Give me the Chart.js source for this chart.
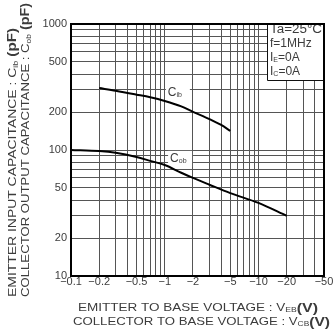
<!DOCTYPE html>
<html><head><meta charset="utf-8">
<script src="https://cdn.jsdelivr.net/npm/chart.js@4.4.0/dist/chart.umd.min.js"></script>
<style>html,body{margin:0;padding:0;background:#fff;overflow:hidden}#wrap{width:333px;height:332px;position:relative}</style>
</head><body><div id="wrap"><canvas id="c" width="333" height="332"></canvas></div>
<script>
// ---- data ----
const voltageCib = [-0.2, -0.3, -0.5, -0.7, -1, -1.5, -2, -3, -4, -5];
const capCib     = [310, 295, 275, 262, 245, 222, 201, 176, 158, 142];
const voltageCob = [-0.1, -0.2, -0.3, -0.5, -0.7, -1, -1.5, -2, -3, -5, -10, -20];
const capCob     = [100, 98, 95, 88, 82, 76, 66, 60, 53, 45.5, 38, 30];
const xTickValues = [0.1,0.2,0.3,0.4,0.5,0.6,0.7,0.8,0.9,1,2,3,4,5,6,7,8,9,10,20,30,40,50];
const xTickLabels = {'0.1':'−0.1','0.2':'−0.2','0.5':'−0.5','1':'−1','2':'−2','5':'−5','10':'−10','20':'−20','50':'−50'};
const yTickValues = [10,20,30,40,50,60,70,80,90,100,200,300,400,500,600,700,800,900,1000];
const yTickLabels = {'10':'10','20':'20','50':'50','100':'100','200':'200','500':'500','1000':'1000'};

const FAM = '"Liberation Sans", Arial, Helvetica, sans-serif';
const TXT = '#3c3c3c';

function richWidth(ctx, segs){ let w=0; for(const s of segs){ ctx.font=s.font; w+=ctx.measureText(s.text).width; } return w; }
function drawRich(ctx, segs, x, y, opt){
  opt = opt || {};
  ctx.save();
  ctx.translate(x, y);
  if (opt.rotate) ctx.rotate(opt.rotate);
  const w = richWidth(ctx, segs);
  const k = opt.target ? opt.target / w : 1;
  const start = opt.align === 'center' ? -w*k/2 : 0;
  ctx.translate(start, 0);
  ctx.scale(k, 1);
  ctx.textBaseline = 'middle'; ctx.textAlign = 'left';
  let cx = 0;
  for (const s of segs){
    ctx.font = s.font; ctx.fillStyle = s.color || TXT;
    ctx.fillText(s.text, cx, s.dy || 0);
    cx += ctx.measureText(s.text).width;
  }
  ctx.restore();
}
const F = (sz, bold) => (bold ? 'bold ' : '') + sz + 'px ' + FAM;

const decorPlugin = {
  id: 'decor',
  beforeDatasetsDraw(chart){
    const ctx = chart.ctx, a = chart.chartArea;
    const xs = chart.scales.x, ys = chart.scales.y;
    ctx.save();
    // condition box
    const bx = a.right - 57, by = a.top + 56;
    ctx.fillStyle = '#fff';
    ctx.fillRect(bx, a.top, a.right - bx, by - a.top);
    ctx.strokeStyle = '#111'; ctx.lineWidth = 1;
    ctx.beginPath(); ctx.moveTo(bx + 0.5, a.top); ctx.lineTo(bx + 0.5, by + 0.5); ctx.lineTo(a.right, by + 0.5); ctx.stroke();
    drawRich(ctx, [{text:'Ta=25°C', font:F(12)}], bx + 3, a.top + 6, {target:52});
    drawRich(ctx, [{text:'f=1MHz', font:F(12)}], bx + 3, a.top + 20);
    drawRich(ctx, [{text:'I', font:F(12)}, {text:'E', font:F(7), dy:2}, {text:'=0A', font:F(12)}], bx + 3, a.top + 34);
    drawRich(ctx, [{text:'I', font:F(12)}, {text:'C', font:F(7), dy:2}, {text:'=0A', font:F(12)}], bx + 3, a.top + 48);
    // curve labels
    const lx1 = xs.getPixelForValue(1.08), ly1 = ys.getPixelForValue(283);
    ctx.fillStyle = '#fff'; ctx.fillRect(lx1 - 2, ly1 - 8, 24, 16);
    drawRich(ctx, [{text:'C', font:F(12)}, {text:'ib', font:F(7), dy:2}], lx1, ly1);
    const lx2 = xs.getPixelForValue(1.14), ly2 = ys.getPixelForValue(85);
    ctx.fillStyle = '#fff'; ctx.fillRect(lx2 - 2, ly2 - 8, 24, 16);
    drawRich(ctx, [{text:'C', font:F(12)}, {text:'ob', font:F(7), dy:2}], lx2, ly2);
    ctx.restore();
  },
  afterDatasetsDraw(chart){
    const ctx = chart.ctx, a = chart.chartArea;
    ctx.save();
    ctx.strokeStyle = '#000'; ctx.lineWidth = 2;
    ctx.strokeRect(a.left, a.top, a.right - a.left, a.bottom - a.top);
    ctx.restore();
  },
  afterDraw(chart){
    const ctx = chart.ctx;
    // y axis titles (two rotated lines)
    drawRich(ctx, [{text:'EMITTER INPUT CAPACITANCE : C', font:F(11)}, {text:'ib', font:F(7), dy:3}, {text:' (pF)', font:F(12, true)}],
      13, 297, {rotate:-Math.PI/2, target:269});
    drawRich(ctx, [{text:'COLLECTOR OUTPUT CAPACITANCE : C', font:F(11)}, {text:'ob', font:F(7), dy:3}, {text:' (pF)', font:F(12, true)}],
      26, 297, {rotate:-Math.PI/2, target:294});
    // x axis titles
    drawRich(ctx, [{text:'EMITTER TO BASE VOLTAGE : V', font:F(11)}, {text:'EB', font:F(7), dy:2}, {text:'(V)', font:F(13, true)}],
      198, 308, {align:'center', target:240});
    drawRich(ctx, [{text:'COLLECTOR TO BASE VOLTAGE : V', font:F(11)}, {text:'CB', font:F(7), dy:2}, {text:'(V)', font:F(13, true)}],
      201.5, 322, {align:'center', target:257});
  }
};

const ctx = document.getElementById('c').getContext('2d');
new Chart(ctx, {
  type: 'line',
  data: {
    datasets: [
      { label: 'Cib', data: voltageCib.map((v, i) => ({x: Math.abs(v), y: capCib[i]})),
        borderColor: '#000', borderWidth: 2, pointRadius: 0, fill: false, cubicInterpolationMode: 'monotone' },
      { label: 'Cob', data: voltageCob.map((v, i) => ({x: Math.abs(v), y: capCob[i]})),
        borderColor: '#000', borderWidth: 2, pointRadius: 0, fill: false, cubicInterpolationMode: 'monotone' }
    ]
  },
  options: {
    responsive: false, animation: false, devicePixelRatio: 1,
    layout: { padding: { left: 0, right: 9, top: 24, bottom: 0 } },
    plugins: { legend: { display: false }, tooltip: { enabled: false } },
    scales: {
      x: {
        type: 'logarithmic', min: 0.1, max: 50, position: 'bottom',
        afterBuildTicks: s => { s.ticks = xTickValues.map(v => ({ value: v })); },
        afterFit: s => { s.height = 56; s.paddingLeft = 0; s.paddingRight = 0; },
        grid: { color: '#555', lineWidth: 1, drawTicks: false },
        border: { display: false },
        ticks: { autoSkip: false, maxRotation: 0, minRotation: 0, padding: 0, color: TXT,
          font: { family: FAM, size: 11, lineHeight: 1 },
          callback: v => xTickLabels[String(v)] || '' }
      },
      y: {
        type: 'logarithmic', min: 10, max: 1000, position: 'left',
        afterBuildTicks: s => { s.ticks = yTickValues.map(v => ({ value: v })); },
        afterFit: s => { s.width = 71; s.paddingTop = 0; s.paddingBottom = 0; },
        grid: { color: '#555', lineWidth: 1, drawTicks: false },
        border: { display: false },
        ticks: { autoSkip: false, padding: 4, color: TXT,
          font: { family: FAM, size: 11, lineHeight: 1 },
          callback: v => yTickLabels[String(v)] || '' }
      }
    }
  },
  plugins: [decorPlugin]
});
</script>
</body></html>
